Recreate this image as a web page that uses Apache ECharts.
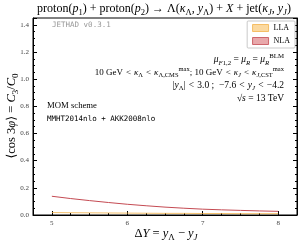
<!DOCTYPE html>
<html><head><meta charset="utf-8">
<script src="https://cdn.jsdelivr.net/npm/echarts@6/dist/echarts.min.js"></script>
<style>html,body{margin:0;padding:0;background:#fff}#c{width:303px;height:245px}</style>
</head><body><div id="c"></div>
<script>
const dY = [5, 5.25, 5.5, 5.75, 6, 6.25, 6.5, 6.75, 7, 7.25, 7.5, 7.75, 8];
const nlaLow  = [0.138, 0.121, 0.106, 0.092, 0.079, 0.068, 0.058, 0.050, 0.043, 0.038, 0.034, 0.030, 0.027];
const nlaHigh = [0.151, 0.134, 0.119, 0.105, 0.092, 0.080, 0.070, 0.061, 0.054, 0.048, 0.044, 0.040, 0.037];
const llaLow  = [0.018, 0.017, 0.016, 0.015, 0.014, 0.013, 0.012, 0.012, 0.011, 0.011, 0.010, 0.010, 0.010];
const llaHigh = [0.024, 0.023, 0.022, 0.021, 0.020, 0.019, 0.018, 0.018, 0.017, 0.016, 0.016, 0.015, 0.015];
const yTicks = [0, 0.2, 0.4, 0.6, 0.8, 1.0, 1.2, 1.4];
const xMajor = [5, 6, 7, 8];

const serif = '"Liberation Serif","DejaVu Serif",serif';
const mono = '"DejaVu Sans Mono","Liberation Mono",monospace';
const pairs = (a) => dY.map((x, i) => [x, a[i]]);
const diff = (h, l) => dY.map((x, i) => [x, +(h[i] - l[i]).toFixed(4)]);

function rich(fs) {
  const ss = Math.round(fs * 0.72 * 10) / 10;
  const base = {fontFamily: serif, fontWeight: 'normal', color: '#000'};
  return {
    n: Object.assign({}, base, {fontSize: fs, lineHeight: fs + 4, verticalAlign: 'middle'}),
    i: Object.assign({}, base, {fontSize: fs, fontStyle: 'italic', lineHeight: fs + 4, verticalAlign: 'middle'}),
    s: Object.assign({}, base, {fontSize: ss, fontStyle: 'italic', lineHeight: ss + 1, verticalAlign: 'bottom'}),
    sn: Object.assign({}, base, {fontSize: ss, lineHeight: ss + 1, verticalAlign: 'bottom'}),
    u: Object.assign({}, base, {fontSize: ss, lineHeight: ss + 1, verticalAlign: 'top'})
  };
}
const R = '\u2004<\u2004';

const chart = echarts.init(document.getElementById('c'));
chart.setOption({
  animation: false,
  grid: {left: 33, right: 6, top: 18, bottom: 30, containLabel: false, outerBoundsMode: 'none',
         show: true, borderColor: '#000', borderWidth: 1, backgroundColor: 'transparent'},
  xAxis: [{
    type: 'value', min: 4.75, max: 8.25, interval: 0.25,
    axisLine: {show: true, lineStyle: {color: '#000', width: 1}},
    axisTick: {show: true, inside: true, length: 2, lineStyle: {color: '#000'}},
    axisLabel: {customValues: xMajor, fontFamily: serif, fontSize: 7, color: '#444', margin: 5, formatter: v => String(v)},
    splitLine: {show: false}
  }, {
    type: 'value', min: 4.75, max: 8.25, position: 'bottom',
    axisLine: {show: false},
    axisTick: {show: true, inside: true, length: 4, customValues: xMajor, lineStyle: {color: '#000'}},
    axisLabel: {show: false}, splitLine: {show: false}
  }],
  yAxis: [{
    type: 'value', min: 0, max: 1.45, interval: 0.2,
    axisLine: {show: true, lineStyle: {color: '#000', width: 1}},
    axisTick: {show: true, inside: true, length: 4, lineStyle: {color: '#000'}},
    minorTick: {show: true, splitNumber: 4, length: 2, lineStyle: {color: '#000'}},
    axisLabel: {customValues: yTicks, fontFamily: serif, fontSize: 7, color: '#444', margin: 4, formatter: v => v.toFixed(1)},
    splitLine: {show: false}
  }, {
    type: 'value', min: 0, max: 1.45, interval: 0.2, position: 'right',
    axisLine: {show: true, lineStyle: {color: '#000'}},
    axisTick: {show: true, inside: true, length: 4, lineStyle: {color: '#000'}},
    minorTick: {show: true, splitNumber: 4, length: 2, lineStyle: {color: '#000'}},
    axisLabel: {show: false}, splitLine: {show: false}
  }],
  legend: {
    right: 8, top: 21, orient: 'vertical', itemWidth: 16, itemHeight: 7, itemGap: 5,
    padding: [3, 5, 3, 5], borderColor: '#bbb', borderWidth: 0.8, borderRadius: 1,
    backgroundColor: '#fff',
    textStyle: {fontFamily: serif, fontSize: 8, color: '#000'},
    data: [
      {name: 'LLA', icon: 'rect', itemStyle: {color: '#fbd9a0', borderColor: '#f3b24a', borderWidth: 0.8}},
      {name: 'NLA', icon: 'rect', itemStyle: {color: '#e8a8ab', borderColor: '#c44a52', borderWidth: 0.8}}
    ]
  },
  series: [
    {type: 'line', stack: 'lla', data: pairs(llaLow), symbol: 'none', lineStyle: {width: 0.8, color: '#f3b24a'}, silent: true},
    {name: 'LLA', type: 'line', stack: 'lla', data: diff(llaHigh, llaLow), symbol: 'none',
     lineStyle: {width: 0.8, color: '#f3b24a'}, itemStyle: {color: '#fbd9a0'},
     areaStyle: {color: 'rgba(248,196,110,0.8)', origin: 'start'}},
    {type: 'line', stack: 'nla', data: pairs(nlaLow), symbol: 'none', lineStyle: {width: 1, color: '#c44a52'}, silent: true},
    {name: 'NLA', type: 'line', stack: 'nla', data: diff(nlaHigh, nlaLow), symbol: 'none',
     lineStyle: {width: 1, color: '#c44a52'}, itemStyle: {color: '#e8a8ab'},
     areaStyle: {color: 'rgba(210,110,116,0.85)', origin: 'start'}}
  ],
  graphic: [
    {type: 'text', x: 164, y: 1, style: {align: 'center',
      text: '{n|proton(}{i|p}{sn|1}{n|) + proton(}{i|p}{sn|2}{n|) → Λ(}{i|κ}{sn|Λ}{n|, }{i|y}{sn|Λ}{n|) + }{i|X}{n| + jet(}{i|κ}{s|J}{n|, }{i|y}{s|J}{n|)}',
      rich: rich(12)}},
    {type: 'text', x: 12, y: 116, rotation: Math.PI / 2, style: {align: 'center', verticalAlign: 'middle',
      text: '{n|⟨cos 3}{i|φ}{n|⟩ = }{i|C}{sn|3}{n|/}{i|C}{sn|0}', rich: rich(12.5)}},
    {type: 'text', x: 166, y: 234, style: {align: 'center', verticalAlign: 'middle',
      text: '{n|Δ}{i|Y}{n| = }{i|y}{sn|Λ}{n| − }{i|y}{s|J}', rich: rich(12.5)}},
    {type: 'text', left: 52, top: 21, style: {text: 'JETHAD v0.3.1', fontFamily: mono, fontSize: 7.5, fill: '#999'}},
    {type: 'text', right: 19, top: 53, style: {align: 'right',
      text: '{i|μ}{s|F}{sn|1,2}{n| = }{i|μ}{s|R}{n| = }{i|μ}{s|R}{u|BLM}', rich: rich(9.5)}},
    {type: 'text', right: 19, top: 66, style: {align: 'right',
      text: '{n|10 GeV' + R + '}{i|κ}{sn|Λ}{n|' + R + '}{i|κ}{sn|Λ,CMS}{u|max}{n|; 10 GeV' + R + '}{i|κ}{s|J}{n|' + R + '}{i|κ}{s|J}{sn|,CST}{u|max}', rich: rich(9)}},
    {type: 'text', right: 19, top: 80, style: {align: 'right',
      text: '{n||}{i|y}{sn|Λ}{n||' + R + '3.0 ;  −7.6' + R + '}{i|y}{s|J}{n|' + R + '−4.2}', rich: rich(9.5)}},
    {type: 'text', right: 19, top: 93, style: {align: 'right',
      text: '{n|√}{i|s}{n| = 13 TeV}', rich: rich(9.5)}},
    {type: 'text', left: 47, top: 101, style: {text: 'MOM scheme', fontFamily: serif, fontSize: 8.7, fill: '#000'}},
    {type: 'text', left: 47, top: 115, style: {text: 'MMHT2014nlo + AKK2008nlo', fontFamily: mono, fontSize: 7.5, fill: '#000'}}
  ]
});
</script></body></html>
